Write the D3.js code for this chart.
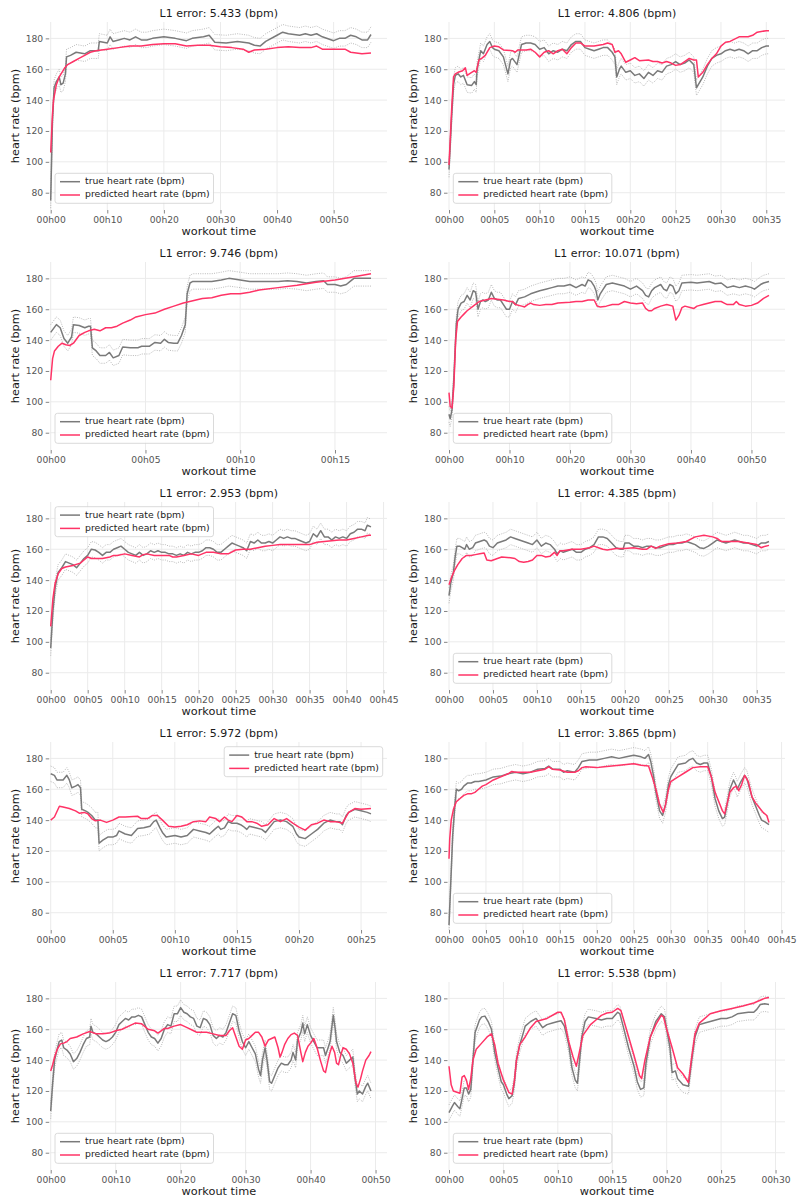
<!DOCTYPE html>
<html>
<head>
<meta charset="utf-8">
<script src="https://cdn.jsdelivr.net/npm/d3@7"></script>
<style>
html,body{margin:0;padding:0;background:#fff;}
text{font-family:"DejaVu Sans",sans-serif;}
</style>
</head>
<body>
<svg id="chart" width="798" height="1201"></svg>
<script>
// ---------------- DATA ----------------
const titles = ["L1 error: 5.433 (bpm)","L1 error: 4.806 (bpm)","L1 error: 9.746 (bpm)","L1 error: 10.071 (bpm)",
  "L1 error: 2.953 (bpm)","L1 error: 4.385 (bpm)","L1 error: 5.972 (bpm)","L1 error: 3.865 (bpm)",
  "L1 error: 7.717 (bpm)","L1 error: 5.538 (bpm)"];
const seriesNames = ["true heart rate (bpm)","predicted heart rate (bpm)"];
const xLabel = "workout time";
const yLabel = "heart rate (bpm)";
const yTickValues = [80,100,120,140,160,180];
const xTickStepMin = [10,5,5,10,5,5,5,5,10,5];
const legendLoc = ["lower left","lower left","lower left","lower left","upper left","lower left","upper right","lower left","lower left","lower left"];
const bandHalfWidth = 5;

// [minute, bpm]
const true1 = [[0,75],[0.3,125],[0.6,148],[1,152],[1.5,155],[1.8,150],[2.2,151],[2.6,157],[2.8,168],[3.5,169],[4.5,171],[6,170],[7,172],[8.4,172],[8.6,178],[10,177],[10.5,181],[11,178],[12,179],[13,180],[14,179],[15,181],[16,179],[17,179],[18,180],[20,181],[22,180],[24,178.5],[25,180],[27,181],[28,182],[29,177.5],[31,177],[33,178],[35,177],[36,175.5],[37,175],[38,178],[40,182],[41,184],[42,183],[44,182],[45,183],[46,182],[47,183],[48,181],[50,178.5],[51,180],[52,180],[53,182],[54,181],[55,179],[56,179],[56.6,182.5]];
const pred1 = [[0,106],[0.3,130],[0.5,140],[1,150],[1.5,155],[2,158],[2.5,161],[3,163],[4,165],[5,167],[6,169],[7,171],[8,172],[9,172.5],[10,173],[12,174],[14,175],[16,175],[18,176],[20,176.5],[22,176.5],[24,175],[26,175.5],[28,175.5],[30,174.5],[32,174],[34,173],[35,171],[36,172.5],[38,173],[40,174],[42,174.5],[44,174],[46,174],[47,175],[48,173],[50,173],[52,173],[53,171],[55,170],[56.6,170.5]];

const true2 = [[0,95],[0.3,130],[0.5,150],[0.7,156],[1,157],[1.3,155],[1.6,156],[2,150],[2.5,149.5],[2.8,152],[3,150],[3.1,160],[3.5,172],[3.8,170],[4.2,176],[4.5,178],[4.8,174],[5,173],[5.5,172],[6,168],[6.5,157],[6.8,166],[7,167],[7.5,163],[8,176],[8.5,177],[9,177],[9.5,176],[10,173],[10.5,174],[11,170],[11.5,172],[12,171],[12.5,173],[13,172],[13.5,176],[14,178],[14.5,178],[15,174],[15.5,173],[16,172],[16.5,173],[17,174],[17.5,174],[18,171],[18.3,168],[18.5,155],[18.8,160],[19,162],[19.5,158],[20,159],[20.5,156],[21,157],[21.5,154],[22,158],[22.5,156],[23,159],[23.5,158],[24,162],[24.5,163],[25,165],[25.5,163],[26,164],[26.5,166],[27,163],[27.3,148],[27.6,151],[28,155],[28.5,162],[29,167],[29.5,169],[30,170],[30.5,172],[31,173],[31.5,172],[32,173],[32.5,172],[33,170],[33.5,172],[34,172],[34.5,174],[35,175],[35.3,175]];
const pred2 = [[0,98],[0.3,135],[0.5,155],[0.7,157],[1,158],[1.5,159],[1.8,161],[2,156],[2.5,158],[2.8,159],[3,158],[3.3,166],[3.6,167],[4,169],[4.5,174],[5,175],[5.5,174.5],[6,172.5],[7,172],[7.3,171],[7.6,172.5],[8.5,172.5],[9,173],[9.5,171],[10,168],[10.5,171],[11,172],[11.5,170],[12,172],[12.5,173],[13,170],[13.5,174],[14,177],[14.5,177],[15,175],[16,175],[17,176],[17.5,177],[18,176],[18.3,171],[18.7,172],[19,170],[19.5,164.5],[20,166],[20.5,167.5],[21,165.5],[22,166],[22.5,165],[23,165],[23.5,164],[24,165],[24.5,164],[25,162.5],[25.5,163],[26,165],[26.5,167],[27,166],[27.3,166],[27.5,155],[28,158],[28.5,163],[29,167],[29.5,170],[30,175],[30.5,177.5],[31,178],[31.5,179.5],[32,181],[33,181],[33.5,182],[34,184],[35,185],[35.3,185]];

const true3 = [[0,145],[0.3,150],[0.5,148],[0.7,141],[0.9,138],[1.1,142],[1.2,150],[1.5,149.5],[1.8,148],[2,149],[2.1,149],[2.2,135],[2.4,133],[2.6,130],[2.9,130],[3.1,132],[3.3,128.5],[3.6,130],[3.8,135.5],[4.2,135],[4.6,135],[4.8,136],[5.2,136],[5.5,138.5],[5.8,138],[6,140.5],[6.2,138.5],[6.5,138],[6.7,138],[6.9,143],[7.1,150],[7.2,170],[7.35,177],[7.5,178],[8,178],[8.5,178],[9,179],[9.4,180],[10,179],[10.5,178],[11,178],[12,178],[12.5,178.5],[13,178],[13.5,177],[14,178],[14.4,178.5],[14.6,176],[15,176],[15.3,175],[15.6,176],[15.8,178],[16,180],[16.5,180],[16.9,180]];
const pred3 = [[0,114],[0.1,128],[0.2,133],[0.4,136],[0.6,138],[0.8,137],[1,136.5],[1.2,138],[1.5,143],[1.8,145],[2,146],[2.3,147],[2.6,146],[2.9,148],[3.2,148],[3.5,149],[3.8,151],[4.2,153],[4.5,155],[5,156.5],[5.5,157.5],[6,160],[6.5,162],[7,164],[7.5,165.5],[8,167],[8.5,167.5],[9,169],[9.5,170],[10,170],[10.5,171],[11,172.5],[12,174],[13,175.5],[14,177.5],[15,179],[16,181],[16.9,183]];

const true4 = [[0,92],[0.2,89],[0.5,95],[0.8,115],[1.2,150],[1.5,160],[2,164],[2.5,165],[3,169],[3.5,166],[4,172],[4.4,171],[4.8,160],[5.2,165],[5.6,166],[6,165],[6.5,166],[7,171],[7.5,167],[8,166],[8.5,166],[9,163],[9.5,160],[10,160],[10.5,165],[11,163],[11.5,167],[12.5,168],[13.5,170],[15,172],[16,173],[17,174],[18,175],[19,175],[20,176],[21,174],[22,176],[22.5,175],[23,179],[23.5,178],[24,175],[24.3,172],[24.6,166],[25,170],[25.5,173],[26,176],[27,177],[28,176],[29,175],[30,173],[31,175],[32,172],[32.5,169],[33,168],[33.5,172],[34,174],[35,176],[35.5,173],[36,172],[36.5,176],[37,175],[37.5,170],[38,172],[38.5,177],[40,177.5],[41,177],[42,177.5],[43,178],[44,176.5],[45,177],[46,174],[47,175],[48,174],[49,175],[50,174],[50.5,173],[51.5,176],[52,177],[52.9,178]];
const pred4 = [[0,106],[0.2,97],[0.5,96],[0.8,110],[1.1,140],[1.4,152],[2,155],[2.5,157],[3,159],[4,162],[5,165],[6,166],[7,167],[8,166.5],[9,166],[10,165],[10.5,165],[11,163],[12,162],[12.5,161.5],[13,163],[13.5,164],[14,163],[15,162.5],[16,163],[17,163],[18,164],[20,164.5],[21,165],[22,165],[23,166],[24,166],[24.5,162],[25,161.5],[26,162],[27,163],[28,163],[29,165],[30,164],[31,163.5],[32,164],[32.5,160.5],[33,159],[33.5,159],[34,160.5],[35,162],[36,163],[37,162],[37.5,153],[38,156],[38.5,161],[39,162],[40,161],[40.5,160.5],[41,162],[42,163],[43,164],[44,165],[45,165],[45.5,164],[46,163],[47,163],[47.5,165],[48,163],[49,162],[50,162.5],[51,164],[52,167],[52.9,169]];

const true5 = [[0,96],[0.3,120],[0.6,135],[1,145],[1.5,148],[2,152],[2.5,151],[3,150],[3.5,148],[4,151],[4.5,154],[5,156],[5.5,160],[6,159.5],[6.5,158],[7,156],[7.5,158],[8,158],[8.5,160],[9,161],[9.5,162],[10,160],[10.5,158],[11,157],[11.5,156],[12,158],[12.5,156],[13,157],[13.5,159],[14,158],[14.5,159],[15,158],[15.5,158],[16,157],[16.5,157],[17,156],[17.5,157],[18,156],[18.5,158],[19,157],[19.5,158],[20,158],[20.5,159],[21,161],[21.5,161],[22,160],[22.5,158],[23,158],[23.5,160],[24,162],[24.5,164],[25,163],[25.5,162],[26,161],[26.5,159],[27,165],[27.5,164],[28,166],[28.5,164],[29,164],[29.5,165],[30,164],[30.5,166],[31,168],[31.5,167],[32,168],[32.5,167],[33,167],[33.5,166],[34,165],[34.5,164],[35,165],[35.5,170],[36,168],[36.5,172],[37,168],[37.5,168],[38,166],[38.5,168],[39,167],[39.5,168],[40,167],[40.5,170],[41,171],[41.5,173],[42,173],[42.5,172],[42.8,175.5],[43.3,174.5]];
const pred5 = [[0,110],[0.3,128],[0.6,138],[1,144],[1.5,147.5],[2,148.5],[3,149.5],[4,151],[4.5,153],[5,155],[5.5,154],[6,154],[7,154],[8,155],[8.5,156],[9,156],[10,157],[11,156],[12,155],[12.5,156.5],[13,157],[14,156],[15,156],[16,156],[16.5,155],[17,155],[18,156],[19,157],[20,156],[21,158],[22,158],[23,157],[24,157],[25,159.5],[26,160],[27,160],[28,161],[29,162],[30,162.5],[31,163],[32,163],[33,163],[34,163],[35,163],[36,164.5],[37,165],[38,165.5],[39,166],[40,166],[41,167],[42,168],[43,169],[43.3,169]];

const true6 = [[0,130],[0.2,138],[0.5,145],[0.7,155],[0.9,162],[1.2,162],[1.5,161],[1.8,160],[2,163],[2.3,160],[2.7,161],[3,164],[3.5,165],[4,166],[4.3,165],[4.6,162],[5,161],[5.5,164],[6,165],[6.5,166],[7,168],[7.5,167],[8,166],[8.5,165],[9,164],[9.5,163],[10,166],[10.5,162],[11,164],[11.5,163],[12,160],[12.3,157],[12.7,159],[13,158],[13.5,159],[14,160],[14.5,158],[15,158],[15.5,160],[16,161],[16.5,163],[17,168],[17.5,168],[18,167],[18.5,164],[19,161],[19.5,160],[19.8,160],[20,164],[20.5,164],[21,162],[21.5,162],[22,161],[22.5,162],[23,162],[23.5,161],[24,161],[24.5,162],[25,163],[25.5,163],[26,164],[26.5,164],[27,165],[27.5,164],[28,163],[28.5,161],[29,160.5],[29.5,162],[30,164],[30.5,166],[31,165],[31.5,164],[32,165],[32.5,166],[33,165],[33.5,164],[34,164],[34.5,163],[35,162],[35.5,164],[36,164],[36.4,165]];
const pred6 = [[0,137],[0.3,142],[0.6,146],[1,150],[1.5,154],[2,156],[2.5,156],[3,156.5],[3.5,157],[4,157.5],[4.3,153],[4.8,152.5],[5.5,154],[6,155],[7,154.5],[7.5,154],[8,152],[8.5,151.5],[9,152],[9.5,153],[10,156],[10.5,156],[11,155],[11.5,155.5],[12,158],[12.3,156],[12.6,159],[13,159],[14,160],[15,160],[16,161],[16.5,162],[17,161],[17.5,160],[18,159.5],[19,160.5],[20,160.5],[21,161],[22,160],[22.5,160],[23,162],[23.5,160.5],[24,162],[25,163.5],[26,164],[27,165],[28,168],[29,169],[30,168],[30.5,167],[31,165],[32,165],[33,165],[34,164],[35,163],[35.5,161],[36,162],[36.4,162.5]];

const true7 = [[0,170],[0.3,169],[0.5,166],[1,166],[1.3,169],[1.5,166],[1.7,161],[2,162],[2.2,163],[2.4,161],[2.5,147],[2.8,146],[3,145],[3.3,143],[3.6,140],[3.8,140],[3.9,125],[4.2,127],[4.6,129],[5,129],[5.3,130],[5.5,133],[6,131],[6.5,130],[7,134.5],[7.5,135],[8,136],[8.3,139],[8.5,140],[8.8,135],[9,132],[9.3,129],[10,130],[10.5,129],[11,130],[11.5,134],[12,133],[12.5,132],[12.8,131],[13.2,134],[13.5,136],[13.7,134],[14,135],[14.3,139],[14.6,138],[15,138],[15.3,137],[15.5,136],[15.8,134],[16,136],[16.5,135],[17,134],[17.3,132],[17.6,135],[18,139],[18.5,140],[19,139],[19.5,136],[19.8,131],[20,129],[20.5,128],[21,131],[21.5,134],[22,138],[22.5,140],[23,139],[23.3,139],[23.5,137],[23.8,143],[24,145],[24.5,147],[25,146],[25.5,145],[25.8,144]];
const pred7 = [[0,140],[0.3,142],[0.7,149],[1,148.5],[1.5,147.5],[2,146],[2.3,144.5],[2.7,145],[3,144],[3.3,141],[3.6,139.5],[4,140],[4.5,138.5],[5,140],[5.5,142],[6,142],[7,142.5],[7.3,141],[7.8,141],[8.2,143],[8.6,143],[9,140],[9.5,136],[10,135.5],[10.5,136],[11,137],[11.5,139],[12,139.5],[12.5,139],[12.8,142],[13.3,141],[13.6,139],[14,142],[14.3,140],[14.6,139],[15,143],[15.4,142],[15.8,139],[16.2,139],[16.6,138],[17,136],[17.5,137],[18,141],[18.5,139],[19,141],[19.5,138],[20,135.5],[20.5,133.5],[21,137],[21.5,138],[22,140],[22.5,139],[23,139],[23.5,138],[24,145],[24.5,147.5],[25,147],[25.8,147.5]];

const true8 = [[0,72],[0.2,95],[0.5,130],[0.8,150],[1,160],[1.3,159],[1.7,160],[2,162],[2.5,164],[3,164],[3.5,165],[4,165],[5,166],[6,168],[7,168.5],[8,170],[9,171],[10,170],[11,171],[12,173],[13,173.5],[13.5,175],[14,173],[15,173],[15.5,171],[16,172],[17,171],[17.5,174],[18,178],[19,179],[20,179],[21,180],[22,181],[23,180],[24,181],[25,182],[26,181],[26.5,180],[27,182.5],[27.3,178],[27.7,168],[28,158],[28.5,146],[28.9,143],[29.3,150],[29.7,163],[30,168],[30.5,172],[31,176],[32,177],[32.5,179],[33,180],[33.5,177],[34,176],[34.5,177],[35,177],[35.5,168],[36,154],[36.5,146],[37,141],[37.3,142],[37.7,152],[38,160],[38.5,166],[38.8,163],[39,160],[39.5,165],[40,169],[40.3,167],[41,155],[41.5,149],[42,143],[42.3,140],[42.7,139],[43.3,137]];
const pred8 = [[0,115],[0.1,128],[0.3,140],[0.6,147],[1,152],[1.5,154],[2,156],[2.5,157],[3,157],[3.5,158],[4,160],[4.5,162],[5,163],[6,166],[7,168],[8,170],[8.5,171.5],[9,171],[10,171],[11,171],[12,172],[13,173],[13.5,174.5],[14,173],[15,172.5],[16,171],[17,171],[17.5,172],[18,174],[18.5,174.5],[20,174],[21,174.5],[22,175],[23,175.5],[24,176],[25,176.5],[26,175.5],[27,175],[27.5,168],[28,160],[28.5,150],[29,145],[29.3,150],[29.7,160],[30,165],[31,168],[32,171],[33,174],[34,174.5],[35,174.5],[35.5,168],[36,158],[36.5,152],[37,146],[37.3,144],[37.7,152],[38,158],[38.5,161],[38.9,162],[39.2,159],[39.6,163],[40,169],[40.5,165],[41,155],[41.5,151],[42,148],[42.5,145],[43,143],[43.3,138.5]];

const true9 = [[0,107],[0.3,125],[0.6,140],[1,147],[1.3,152],[1.7,153],[2,148],[2.5,146.5],[3,144],[3.5,139],[4,141],[4.5,145],[5,150],[5.5,154],[6,155],[6.2,162],[6.5,158],[7,157],[7.5,155],[8,153],[8.5,152],[9,153],[9.5,155],[10,158],[10.5,163],[11,165],[11.5,167],[12,166],[12.5,168],[13,168],[13.5,169],[14,168],[14.5,163],[15,158],[15.5,155],[16,154],[16.5,151],[17,154],[17.5,160],[18,163],[18.5,162],[19,170],[19.5,170],[20,174],[20.5,171],[21,170],[21.5,168],[22,167],[22.5,162],[23,161],[23.5,167],[24,166],[24.5,163],[25,156],[25.5,154],[26,156],[26.5,155],[27,158],[27.5,164],[28,170],[28.5,169],[29,159],[29.5,152],[30,148],[30.5,152],[31,148],[31.5,144],[32,134],[32.3,130],[32.6,140],[33,148],[33.3,140],[33.7,126],[34,125],[34.5,130],[35,135],[35.5,138],[36,137],[36.5,137],[37,140],[37.3,145],[37.7,140],[38,153],[38.5,158],[38.8,164],[39.1,157],[39.5,163],[40,156],[40.5,152],[41,148],[41.5,148],[42,148],[42.3,143],[42.7,148],[43,152],[43.5,169],[43.8,160],[44,152],[44.5,145],[45,143],[45.5,138],[46,140],[46.5,142],[46.8,130],[47.2,118],[47.5,120],[48,118],[48.5,123],[48.8,125],[49.3,120]];
const pred9 = [[0,133],[0.3,137],[0.6,142],[1,147],[1.5,150.5],[2,151],[2.5,152],[3,154],[4,155],[5,157],[6,158.5],[7,157],[8,157],[9,157.5],[10,159],[11,160],[12,162],[13,164],[14,163.5],[15,160],[16,159],[16.5,157.5],[17,159],[17.5,160.5],[18,160.5],[19,162],[20,163],[21,161],[22,159],[22.5,158],[23,158],[24,158],[25,157],[26,156],[27,156],[27.5,159],[28,161],[28.5,155],[29,149],[29.5,147],[30,153],[30.5,154],[31,156],[31.5,158],[32,158],[32.5,155],[33,149],[33.5,153],[34,154],[34.5,155],[35,148],[35.3,142],[35.6,145],[36,150],[36.5,154],[37,156.5],[37.5,157.5],[38,156],[38.5,145],[38.8,139],[39.2,145],[39.6,149],[40,151],[40.5,154],[41,148],[41.5,140],[42,133],[42.3,132],[42.7,140],[43,145],[43.3,149],[43.7,145],[44,138],[44.3,137],[44.7,144],[45,148],[45.5,147],[46,144],[46.5,138],[47,125],[47.3,122.5],[47.7,128],[48,133],[48.5,140],[49,143],[49.3,145.5]];

const true10 = [[0,106],[0.3,110],[0.5,112.5],[0.8,110],[1,108.5],[1.2,115],[1.4,122],[1.6,122],[1.8,118],[2,121],[2.2,140],[2.4,158],[2.6,162],[2.8,166],[3,168],[3.3,168.5],[3.6,165],[3.9,160],[4.2,145],[4.5,135],[4.8,126],[5,124],[5.3,118],[5.5,115],[5.8,117],[6,125],[6.2,140],[6.5,150],[6.8,157],[7,162],[7.5,165],[8,167],[8.3,164],[8.6,161],[9,163],[9.5,164],[10,165],[10.3,165.5],[10.6,162],[11,150],[11.3,135],[11.6,127],[11.8,125],[12,140],[12.2,155],[12.5,165],[12.8,168],[13.5,167],[14,166],[14.5,167],[15,167],[15.5,171],[15.7,170],[16,162],[16.5,148],[17,136],[17.3,126],[17.6,121],[17.9,122],[18.1,138],[18.5,155],[19,165],[19.5,170],[19.8,168],[20,160],[20.3,148],[20.5,132],[20.8,133],[21,128],[21.5,124],[22,123],[22.3,140],[22.6,155],[23,163],[23.5,164],[24,165],[24.5,166],[25,167],[25.5,167],[26,168],[26.5,170],[27,170.5],[27.5,171],[28,171],[28.3,173],[28.6,176],[29,176.5],[29.4,176]];
const pred10 = [[0,136],[0.2,124],[0.4,120],[0.8,119],[1,118.5],[1.2,129],[1.4,130],[1.6,127],[1.8,121],[2,128],[2.2,140],[2.5,147],[3,151],[3.5,155],[3.9,157],[4.2,150],[4.5,138],[5,127],[5.5,119],[5.8,118],[6,126],[6.2,140],[6.5,150],[7,155],[7.5,161],[8,165],[9,167],[10,171],[10.3,171],[10.6,166],[11,152],[11.4,142],[11.7,136],[12,146],[12.3,156],[13,163],[13.5,166],[14,169],[14.5,170.5],[15,171],[15.5,173.5],[15.8,172],[16.3,160],[17,143],[17.5,130],[17.7,128],[18,140],[18.5,155],[19,163],[19.5,169],[19.7,168],[20,160],[20.5,148],[21,135],[21.5,131],[22,125.5],[22.3,142],[22.6,157],[23,164],[24,170],[25,172],[26,173.5],[27,175],[28,177],[29,180],[29.4,180.5]];

const trueSeries = [true1,true2,true3,true4,true5,true6,true7,true8,true9,true10];
const predSeries = [pred1,pred2,pred3,pred4,pred5,pred6,pred7,pred8,pred9,pred10];

// ---------------- DRAW ----------------
const svg = d3.select("#chart");
svg.append("rect").attr("width",798).attr("height",1201).attr("fill","#fff");

const colTrue = "#7a7a7a", colPred = "#ff3366", colBand = "#a8a8a8", colGrid = "#ebebeb";
const rowH = 240;
const colX = [[50.7,387],[449,785]];
const plotTop = 22, plotBottom = 210;

titles.forEach((title,i)=>{
  const row = Math.floor(i/2), col = i%2;
  const oy = row*rowH;
  const [xl, xr] = colX[col];
  const tr = trueSeries[i], pr = predSeries[i];
  const tEnd = d3.max(tr.concat(pr), d=>d[0]);
  const x = d3.scaleLinear().domain([0, tEnd*1.05]).range([xl, xr]);
  const y = d3.scaleLinear().domain([68.8,190.6]).range([oy+plotBottom, oy+plotTop]);
  const g = svg.append("g");

  // grid
  const step = xTickStepMin[i];
  const xt = d3.range(0, tEnd*1.05+0.001, step);
  g.selectAll(".gy").data(yTickValues).join("line")
    .attr("x1", xl-1).attr("x2", xr).attr("y1", d=>y(d)).attr("y2", d=>y(d))
    .attr("stroke", colGrid).attr("stroke-width",1);
  g.selectAll(".gx").data(xt).join("line")
    .attr("x1", d=>x(d)).attr("x2", d=>x(d)).attr("y1", oy+plotTop).attr("y2", oy+plotBottom)
    .attr("stroke", colGrid).attr("stroke-width",1);

  // axes
  const fmt = d=>{const h=Math.floor(d/60), m=Math.round(d%60); return String(h).padStart(2,"0")+"h"+String(m).padStart(2,"0");};
  const ax = g.append("g").attr("transform",`translate(0,${oy+plotBottom})`)
    .call(d3.axisBottom(x).tickValues(xt).tickFormat(fmt).tickSize(3.5).tickPadding(3));
  const ay = g.append("g").attr("transform",`translate(${xl-1.5},0)`)
    .call(d3.axisLeft(y).tickValues(yTickValues).tickSize(3.5).tickPadding(2.5));
  [ax,ay].forEach(a=>{
    a.select(".domain").remove();
    a.selectAll(".tick line").attr("stroke","#666").attr("stroke-width",0.8);
    a.selectAll(".tick text").attr("fill","#555").attr("font-size","9.2px").attr("font-family","DejaVu Sans");
  });

  // clip
  const cid = "clip"+i;
  svg.append("clipPath").attr("id",cid).append("rect")
    .attr("x",xl-1).attr("y",oy+plotTop).attr("width",xr-xl+1).attr("height",plotBottom-plotTop);
  const pg = g.append("g").attr("clip-path",`url(#${cid})`);

  const line = d3.line().x(d=>x(d[0])).y(d=>y(d[1]));
  const upper = tr.map(d=>[d[0], d[1]+bandHalfWidth]);
  const lower = tr.map(d=>[d[0], d[1]-bandHalfWidth]);
  [upper,lower].forEach(b=>{
    pg.append("path").attr("d", line(b)).attr("fill","none")
      .attr("stroke",colBand).attr("stroke-width",0.8).attr("stroke-dasharray","1,1.3");
  });
  pg.append("path").attr("d", line(tr)).attr("fill","none").attr("stroke",colTrue).attr("stroke-width",1.5).attr("stroke-linejoin","round");
  pg.append("path").attr("d", line(pr)).attr("fill","none").attr("stroke",colPred).attr("stroke-width",1.5).attr("stroke-linejoin","round");

  // labels
  g.append("text").attr("x",(xl+xr)/2).attr("y",oy+13.5).attr("text-anchor","middle")
    .attr("dominant-baseline","middle").attr("font-size","11px").attr("fill","#1a1a1a").text(title);
  g.append("text").attr("x",(xl+xr)/2).attr("y",oy+232).attr("text-anchor","middle")
    .attr("dominant-baseline","middle").attr("font-size","11.3px").attr("fill","#1a1a1a").text(xLabel);
  g.append("text").attr("transform",`translate(${col===0?16:414},${oy+(plotTop+plotBottom)/2}) rotate(-90)`)
    .attr("text-anchor","middle").attr("dominant-baseline","middle")
    .attr("font-size","11.3px").attr("fill","#1a1a1a").text(yLabel);

  // legend
  const lw = 158.5, lh = 30;
  const loc = legendLoc[i];
  let lx, ly;
  if (loc==="lower left"){ lx = xl+4.3; ly = oy+plotBottom-6.7-lh; }
  else if (loc==="upper left"){ lx = xl+4.3; ly = oy+plotTop+4.7; }
  else { lx = xr-4.3-lw; ly = oy+plotTop+4.7; }
  const lg = g.append("g").attr("transform",`translate(${lx},${ly})`);
  lg.append("rect").attr("width",lw).attr("height",lh).attr("rx",2.5)
    .attr("fill","#fff").attr("fill-opacity",0.85).attr("stroke","#d0d0d0").attr("stroke-width",0.8);
  [[colTrue,seriesNames[0]],[colPred,seriesNames[1]]].forEach(([c,t],k)=>{
    const yy = 8.4 + k*13.3;
    lg.append("line").attr("x1",5).attr("x2",25).attr("y1",yy).attr("y2",yy).attr("stroke",c).attr("stroke-width",1.5);
    lg.append("text").attr("x",30).attr("y",yy).attr("dominant-baseline","middle")
      .attr("font-size","9.3px").attr("fill","#222").text(t);
  });
});
</script>
</body>
</html>
